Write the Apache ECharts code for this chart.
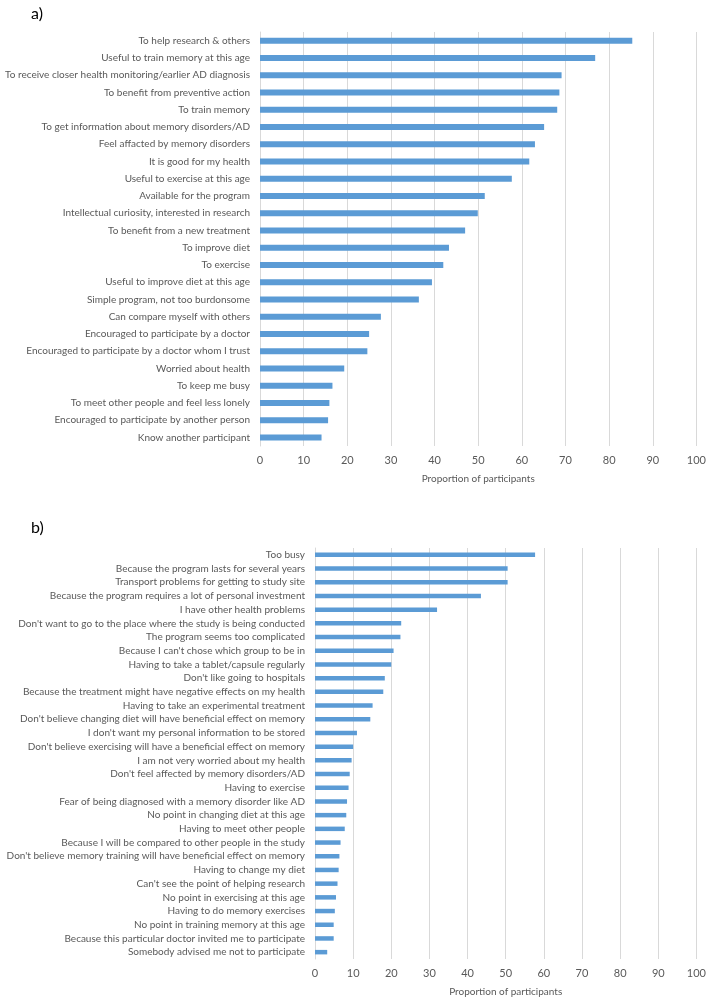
<!DOCTYPE html>
<html lang="en">
<head>
    <meta charset="UTF-8">
    <meta name="viewport" content="width=device-width, initial-scale=1.0">
    <title>Reasons to participate / not participate</title>
    <script src="https://cdn.jsdelivr.net/npm/echarts@6.0.0/dist/echarts.min.js"></script>
    <style>
        body { padding: 0; margin: 0; background: #fff; }
        #chart { width: 709px; height: 998px; }
    </style>
</head>
<body>
    <div id="chart"></div>

    <script>
        // a) reasons for participating
        const reasonsYes = [
            'To help research & others',
            'Useful to train memory at this age',
            'To receive closer health monitoring/earlier AD diagnosis',
            'To benefit from preventive action',
            'To train memory',
            'To get information about memory disorders/AD',
            'Feel affacted by memory disorders',
            'It is good for my health',
            'Useful to exercise at this age',
            'Available for the program',
            'Intellectual curiosity, interested in research',
            'To benefit from a new treatment',
            'To improve diet',
            'To exercise',
            'Useful to improve diet at this age',
            'Simple program, not too burdonsome',
            'Can compare myself with others',
            'Encouraged to participate by a doctor',
            'Encouraged to participate by a doctor whom I trust',
            'Worried about health',
            'To keep me busy',
            'To meet other people and feel less lonely',
            'Encouraged to participate by another person',
            'Know another participant'
        ];
        const valuesYes = [85.3, 76.8, 69.1, 68.6, 68.1, 65.1, 63.0, 61.7, 57.7, 51.5, 49.9, 47.0,
                           43.3, 42.0, 39.4, 36.4, 27.7, 25.0, 24.6, 19.3, 16.6, 15.9, 15.6, 14.1];

        // b) reasons for not participating
        const reasonsNo = [
            'Too busy',
            'Because the program lasts for several years',
            'Transport problems for getting to study site',
            'Because the program requires a lot of personal investment',
            'I have other health problems',
            "Don't want to go to the place where the study is being conducted",
            'The program seems too complicated',
            "Because I can't chose which group to be in",
            'Having to take a tablet/capsule regularly',
            "Don't like going to hospitals",
            'Because the treatment might have negative effects on my health',
            'Having to take an experimental treatment',
            "Don't believe changing diet will have beneficial effect on memory",
            "I don't want my personal information to be stored",
            "Don't believe exercising will have a beneficial effect on memory",
            'I am not very worried about my health',
            "Don't feel affected by memory disorders/AD",
            'Having to exercise',
            'Fear of being diagnosed with a memory disorder like AD',
            'No point in changing diet at this age',
            'Having to meet other people',
            'Because I will be compared to other people in the study',
            "Don't believe memory training will have beneficial effect on memory",
            'Having to change my diet',
            "Can't see the point of helping research",
            'No point in exercising at this age',
            'Having to do memory exercises',
            'No point in training memory at this age',
            'Because this particular doctor invited me to participate',
            'Somebody advised me not to participate'
        ];
        const valuesNo = [57.7, 50.5, 50.5, 43.5, 32.0, 22.6, 22.4, 20.6, 20.0, 18.3, 17.9, 15.1,
                          14.5, 11.0, 10.0, 9.6, 9.1, 8.8, 8.4, 8.2, 7.8, 6.7, 6.4, 6.2,
                          5.9, 5.5, 5.2, 4.9, 4.9, 3.2];

        const axisName = 'Proportion of participants';
        const textColor = '#595959';
        const font = 'Lato';
        const barColor = '#5B9BD5';

        function valueAxis(gridIndex) {
            return {
                type: 'value', gridIndex: gridIndex, min: 0, max: 100, interval: 10,
                name: axisName, nameLocation: 'middle', nameGap: 28,
                nameTextStyle: { color: textColor, fontFamily: font, fontSize: 10 },
                axisLine: { show: false }, axisTick: { show: false },
                axisLabel: { color: textColor, fontFamily: font, fontSize: 11, margin: 9 },
                splitLine: { lineStyle: { color: '#d9d9d9', width: 1 } }
            };
        }
        function catAxis(gridIndex, cats) {
            return {
                type: 'category', gridIndex: gridIndex, data: cats, inverse: true,
                axisLine: { lineStyle: { color: '#d9d9d9' } }, axisTick: { show: false },
                axisLabel: { color: textColor, fontFamily: font, fontSize: 10, margin: 10, interval: 0 }
            };
        }

        const chart = echarts.init(document.getElementById('chart'), null, { renderer: 'canvas' });
        chart.setOption({
            animation: false,
            title: [
                { text: 'a)', left: 26, top: 1, textStyle: { fontFamily: font, fontSize: 16, fontWeight: 'normal', color: '#000' } },
                { text: 'b)', left: 26, top: 515, textStyle: { fontFamily: font, fontSize: 16, fontWeight: 'normal', color: '#000' } }
            ],
            grid: [
                { left: 260, right: 8, top: 32, height: 414 },
                { left: 315, right: 9, top: 548, height: 414 }
            ],
            xAxis: [valueAxis(0), valueAxis(1)],
            yAxis: [catAxis(0, reasonsYes), catAxis(1, reasonsNo)],
            series: [
                { type: 'bar', xAxisIndex: 0, yAxisIndex: 0, data: valuesYes, barWidth: 6, itemStyle: { color: barColor } },
                { type: 'bar', xAxisIndex: 1, yAxisIndex: 1, data: valuesNo, barWidth: 4.5, itemStyle: { color: barColor } }
            ]
        });

        window.addEventListener('resize', function() {
            chart.resize();
        });
    </script>
</body>
</html>
